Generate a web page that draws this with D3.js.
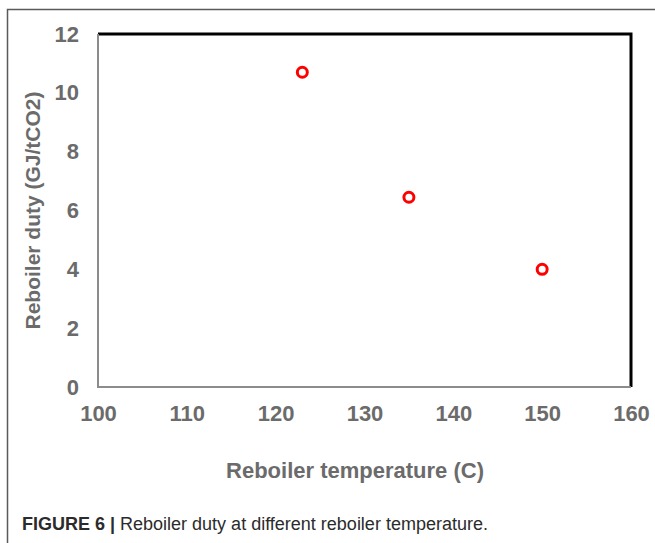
<!DOCTYPE html>
<html>
<head>
<meta charset="utf-8">
<script src="https://cdn.jsdelivr.net/npm/d3@7"></script>
<style>
  body { margin: 0; background: #fff; }
  svg { display: block; }
</style>
</head>
<body>
<div id="chart"></div>
<script>
// data
const temps = [123, 135, 150];
const duties = [10.7, 6.45, 4.0];
const xTicks = [100, 110, 120, 130, 140, 150, 160];
const yTicks = [0, 2, 4, 6, 8, 10, 12];

const width = 655;
const height = 543;
const margin = { top: 34, right: 24, bottom: 156, left: 98 };
const font = "Liberation Sans, Arial, sans-serif";
const gray = "#6b6b6b";

const svg = d3.select("#chart")
  .append("svg")
  .attr("width", width)
  .attr("height", height);

// outer figure frame (top + left only)
svg.append("path")
  .attr("d", "M7.5," + height + "V9.5H" + width)
  .attr("fill", "none")
  .attr("stroke", "#5a5a5a")
  .attr("stroke-width", 1.5);

const xScale = d3.scaleLinear()
  .domain([100, 160])
  .range([margin.left, width - margin.right]);

const yScale = d3.scaleLinear()
  .domain([0, 12])
  .range([height - margin.bottom, margin.top]);

const x0 = xScale(100), x1 = xScale(160);
const y0 = yScale(0), y1 = yScale(12);

// plot frame: top/right black, left/bottom gray
svg.append("path")
  .attr("d", `M${x0},${y1}H${x1}V${y0}`)
  .attr("fill", "none")
  .attr("stroke", "#000")
  .attr("stroke-width", 3);
svg.append("path")
  .attr("d", `M${x0},${y1}V${y0}H${x1}`)
  .attr("fill", "none")
  .attr("stroke", "#8c8c8c")
  .attr("stroke-width", 2);

// axes (labels only)
const xAxis = d3.axisBottom(xScale).tickValues(xTicks).tickSize(0).tickPadding(18);
const yAxis = d3.axisLeft(yScale).tickValues(yTicks).tickSize(0).tickPadding(19);

svg.append("g")
  .attr("transform", `translate(0,${y0})`)
  .call(xAxis)
  .call(g => g.select(".domain").remove())
  .selectAll("text")
  .attr("font-family", font)
  .attr("font-size", 22)
  .attr("font-weight", "bold")
  .attr("fill", gray);

svg.append("g")
  .attr("transform", `translate(${x0},0)`)
  .call(yAxis)
  .call(g => g.select(".domain").remove())
  .selectAll("text")
  .attr("font-family", font)
  .attr("font-size", 22)
  .attr("font-weight", "bold")
  .attr("fill", gray);

// axis titles
svg.append("text")
  .attr("x", 355)
  .attr("y", 478)
  .attr("text-anchor", "middle")
  .attr("font-family", font)
  .attr("font-size", 22)
  .attr("font-weight", "bold")
  .attr("fill", gray)
  .text("Reboiler temperature (C)");

svg.append("text")
  .attr("transform", `translate(40,${(y0 + y1) / 2}) rotate(-90)`)
  .attr("text-anchor", "middle")
  .attr("font-family", font)
  .attr("font-size", 21)
  .attr("font-weight", "bold")
  .attr("fill", gray)
  .text("Reboiler duty (GJ/tCO2)");

// points
svg.selectAll(".dots")
  .data(temps)
  .enter()
  .append("circle")
  .attr("class", "dots")
  .attr("cx", d => xScale(d))
  .attr("cy", (d, i) => yScale(duties[i]))
  .attr("r", 5)
  .attr("fill", "none")
  .attr("stroke", "#ff0000")
  .attr("stroke-width", 3);

// caption
const cap = svg.append("text")
  .attr("x", 22)
  .attr("y", 530)
  .attr("font-family", font)
  .attr("font-size", 18)
  .attr("fill", "#2b2b2b");
cap.append("tspan").attr("font-weight", "bold").text("FIGURE 6 | ");
cap.append("tspan").text("Reboiler duty at different reboiler temperature.");
</script>
</body>
</html>
